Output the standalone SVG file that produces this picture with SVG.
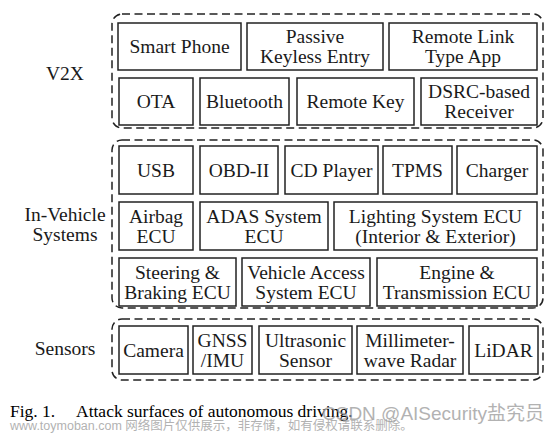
<svg xmlns="http://www.w3.org/2000/svg" width="553" height="435" viewBox="0 0 553 435">
<style>
.grp{fill:none;stroke:#222;stroke-width:1.5;stroke-dasharray:8 4.5}
.box{fill:#fff;stroke:#222;stroke-width:1.5}
.t{font-family:"Liberation Serif","Times New Roman",serif;font-size:19.5px;fill:#1a1a1a;text-anchor:middle}
.cap{font-family:"Liberation Serif","Times New Roman",serif;font-size:17.5px;fill:#000}
.wm{font-family:"Liberation Sans","Noto Sans CJK SC",sans-serif;fill:#999;opacity:0.75}
</style>
<rect width="553" height="435" fill="#fff"/>
<g id="groups">
<rect id="g-v2x" class="grp" x="112" y="14" width="431" height="114" rx="10"/>
<rect id="g-inv" class="grp" x="112" y="140" width="431" height="168" rx="10"/>
<rect id="g-sen" class="grp" x="112" y="319" width="431" height="61" rx="10"/>
</g>
<g id="labels">
<text class="t" x="65" y="80">V2X</text>
<text class="t" x="65" y="221">In-Vehicle</text>
<text class="t" x="65" y="241">Systems</text>
<text class="t" x="65" y="355">Sensors</text>
</g>
<g id="n-smartphone"><rect class="box" x="118" y="23" width="123" height="47"/><text class="t" x="179.5" y="53">Smart Phone</text></g>
<g id="n-pke"><rect class="box" x="247" y="23" width="136" height="47"/><text class="t" x="315" y="43">Passive</text><text class="t" x="315" y="63">Keyless Entry</text></g>
<g id="n-remotelink"><rect class="box" x="389" y="23" width="148" height="47"/><text class="t" x="463" y="43">Remote Link</text><text class="t" x="463" y="63">Type App</text></g>
<g id="n-ota"><rect class="box" x="119" y="78" width="74" height="47"/><text class="t" x="156" y="108">OTA</text></g>
<g id="n-bluetooth"><rect class="box" x="200" y="78" width="89" height="47"/><text class="t" x="244.5" y="108">Bluetooth</text></g>
<g id="n-remotekey"><rect class="box" x="297" y="78" width="117" height="47"/><text class="t" x="355.5" y="108">Remote Key</text></g>
<g id="n-dsrc"><rect class="box" x="421" y="78" width="116" height="47"/><text class="t" x="479" y="98">DSRC-based</text><text class="t" x="479" y="118">Receiver</text></g>
<g id="n-usb"><rect class="box" x="119" y="146" width="74" height="48"/><text class="t" x="156" y="176.5">USB</text></g>
<g id="n-obd"><rect class="box" x="200" y="146" width="78" height="48"/><text class="t" x="239" y="176.5">OBD-II</text></g>
<g id="n-cd"><rect class="box" x="285" y="146" width="93" height="48"/><text class="t" x="331.5" y="176.5">CD Player</text></g>
<g id="n-tpms"><rect class="box" x="383" y="146" width="69" height="48"/><text class="t" x="417.5" y="176.5">TPMS</text></g>
<g id="n-charger"><rect class="box" x="457" y="146" width="80" height="48"/><text class="t" x="497" y="176.5">Charger</text></g>
<g id="n-airbag"><rect class="box" x="119" y="202" width="74" height="48"/><text class="t" x="156" y="222.5">Airbag</text><text class="t" x="156" y="242.5">ECU</text></g>
<g id="n-adas"><rect class="box" x="200" y="202" width="128" height="48"/><text class="t" x="264" y="222.5">ADAS System</text><text class="t" x="264" y="242.5">ECU</text></g>
<g id="n-lighting"><rect class="box" x="334" y="202" width="203" height="48"/><text class="t" x="435.5" y="222.5">Lighting System ECU</text><text class="t" x="435.5" y="242.5">(Interior &amp; Exterior)</text></g>
<g id="n-steering"><rect class="box" x="119" y="258" width="117" height="48"/><text class="t" x="177.5" y="278.5">Steering &amp;</text><text class="t" x="177.5" y="298.5">Braking ECU</text></g>
<g id="n-access"><rect class="box" x="242" y="258" width="128" height="48"/><text class="t" x="306" y="278.5">Vehicle Access</text><text class="t" x="306" y="298.5">System ECU</text></g>
<g id="n-engine"><rect class="box" x="377" y="258" width="160" height="48"/><text class="t" x="457" y="278.5">Engine &amp;</text><text class="t" x="457" y="298.5">Transmission ECU</text></g>
<g id="n-camera"><rect class="box" x="119" y="326" width="69" height="48"/><text class="t" x="153.5" y="356.5">Camera</text></g>
<g id="n-gnss"><rect class="box" x="193" y="326" width="59" height="48"/><text class="t" x="222.5" y="346.5">GNSS</text><text class="t" x="222.5" y="366.5">/IMU</text></g>
<g id="n-ultra"><rect class="box" x="259" y="326" width="93" height="48"/><text class="t" x="305.5" y="346.5">Ultrasonic</text><text class="t" x="305.5" y="366.5">Sensor</text></g>
<g id="n-mmw"><rect class="box" x="357" y="326" width="106" height="48"/><text class="t" x="410" y="346.5">Millimeter-</text><text class="t" x="410" y="366.5">wave Radar</text></g>
<g id="n-lidar"><rect class="box" x="469" y="326" width="69" height="48"/><text class="t" x="503.5" y="356.5">LiDAR</text></g>
<g id="connectors"></g>
<text class="cap" x="10" y="417">Fig. 1.</text>
<text class="cap" x="76" y="417">Attack surfaces of autonomous driving.</text>
<text class="wm" x="10" y="430" font-size="12.5">www.toymoban.com 网络图片仅供展示，非存储，如有侵权请联系删除。</text>
<text class="wm" x="322" y="420" font-size="19">CSDN @AISecurity盐究员</text>
</svg>
